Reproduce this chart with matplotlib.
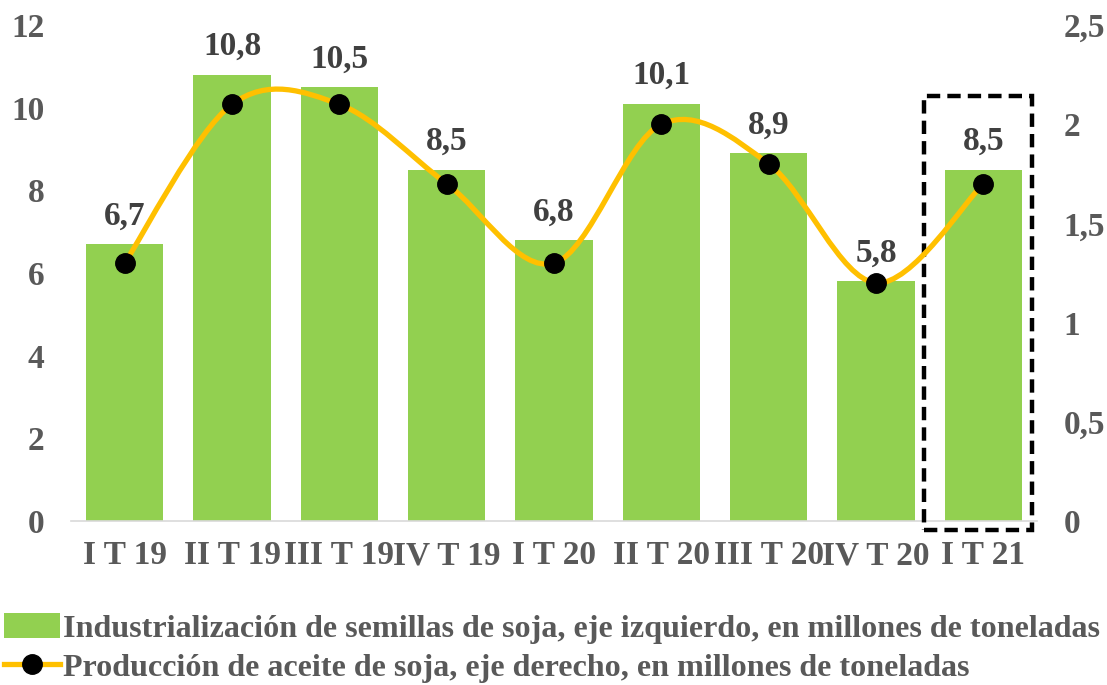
import matplotlib
matplotlib.use("Agg")
import matplotlib.pyplot as plt
import numpy as np
from matplotlib.patches import Rectangle, Patch
from matplotlib.lines import Line2D
from matplotlib.path import Path
from matplotlib.patches import PathPatch

categories = ["I T 19", "II T 19", "III T 19", "IV T 19", "I T 20",
              "II T 20", "III T 20", "IV T 20", "I T 21"]
seeds = [6.7, 10.8, 10.5, 8.5, 6.8, 10.1, 8.9, 5.8, 8.5]
oil = [1.3, 2.1, 2.1, 1.7, 1.3, 2.0, 1.8, 1.2, 1.7]
left_ticks = [0, 2, 4, 6, 8, 10, 12]
right_ticks = [0, 0.5, 1, 1.5, 2, 2.5]
right_labels = ["0", "0,5", "1", "1,5", "2", "2,5"]
label_seeds = "Industrialización de semillas de soja, eje izquierdo, en millones de toneladas"
label_oil = "Producción de aceite de soja, eje derecho, en millones de toneladas"

GREEN = "#92D050"
ORANGE = "#FFC000"
TXT = "#595959"
LBL = "#404040"
FS = 24

plt.rcParams["font.family"] = ["Liberation Serif", "DejaVu Serif"]
plt.rcParams["font.weight"] = "bold"

W, H = 1107, 685
fig = plt.figure(figsize=(W / 100, H / 100), dpi=100)
ax = fig.add_axes([71 / W, 1 - 521 / H, (1037 - 71) / W, (521 - 25) / H])
ax2 = ax.twinx()

x = np.arange(len(categories))
ax.bar(x, seeds, width=0.72, color=GREEN, zorder=2)
ax.set_xlim(-0.5, len(categories) - 0.5)
ax.set_ylim(0, 12)
ax.set_yticks(left_ticks)
ax.set_yticklabels([str(t) for t in left_ticks])
ax.set_xticks(x)
ax.set_xticklabels(categories)
for s in ["top", "right", "left"]:
    ax.spines[s].set_visible(False)
    ax2.spines[s].set_visible(False)
ax2.spines["bottom"].set_visible(False)
ax.spines["bottom"].set_color("#d9d9d9")
ax.spines["bottom"].set_linewidth(1.2)
ax.tick_params(axis="both", length=0, labelsize=FS, labelcolor=TXT)
ax.tick_params(axis="x", pad=14)
ax.tick_params(axis="y", pad=19)
for lab in ax.get_yticklabels() + ax.get_xticklabels():
    lab.set_fontweight("bold")

for xi, v in zip(x, seeds):
    ax.annotate(f"{v:.1f}".replace(".", ","), (xi, v), xytext=(0, 9),
                textcoords="offset points", ha="center", va="bottom",
                fontsize=FS, fontweight="bold", color=LBL)

ax2.set_ylim(0, 2.5)
ax2.set_yticks(right_ticks)
ax2.set_yticklabels(right_labels)
ax2.tick_params(axis="y", length=0, labelsize=FS, labelcolor=TXT, pad=19)
for lab in ax2.get_yticklabels():
    lab.set_fontweight("bold")

# smoothed line (Catmull-Rom as Bezier through the data points)
pts = np.column_stack([x, oil]).astype(float)
verts = [tuple(pts[0])]
codes = [Path.MOVETO]
n = len(pts)
for i in range(n - 1):
    p0 = pts[i - 1] if i > 0 else pts[i]
    p1 = pts[i]
    p2 = pts[i + 1]
    p3 = pts[i + 2] if i + 2 < n else pts[i + 1]
    c1 = p1 + (p2 - p0) / 6
    c2 = p2 - (p3 - p1) / 6
    verts += [tuple(c1), tuple(c2), tuple(p2)]
    codes += [Path.CURVE4] * 3
ax2.add_patch(PathPatch(Path(verts, codes), fill=False, edgecolor=ORANGE,
                        lw=3.8, zorder=3, capstyle="round"))
ax2.plot(x, oil, linestyle="none", marker="o", ms=14, color="black", zorder=4)

# dashed highlight box
ax.add_patch(Rectangle((7.45, -0.22), 1.0, 10.5, fill=False, edgecolor="black",
                       lw=3.2, linestyle=(0, (3, 1.6)), clip_on=False, zorder=5))

handles = [Patch(facecolor=GREEN, edgecolor="none"),
           Line2D([0], [0], color=ORANGE, lw=3.8, marker="o", ms=14,
                  markerfacecolor="black", markeredgecolor="black")]
leg = fig.legend(handles, [label_seeds, label_oil], loc="upper left",
                 bbox_to_anchor=(4 / W, 1 - 613 / H), frameon=False,
                 prop={"size": 23.1, "weight": "bold"}, handlelength=1.74,
                 handleheight=0.82, handletextpad=0.1, labelspacing=0.28,
                 borderaxespad=0, borderpad=0)
for t in leg.get_texts():
    t.set_color(TXT)

fig.savefig("out.png", dpi=100)
